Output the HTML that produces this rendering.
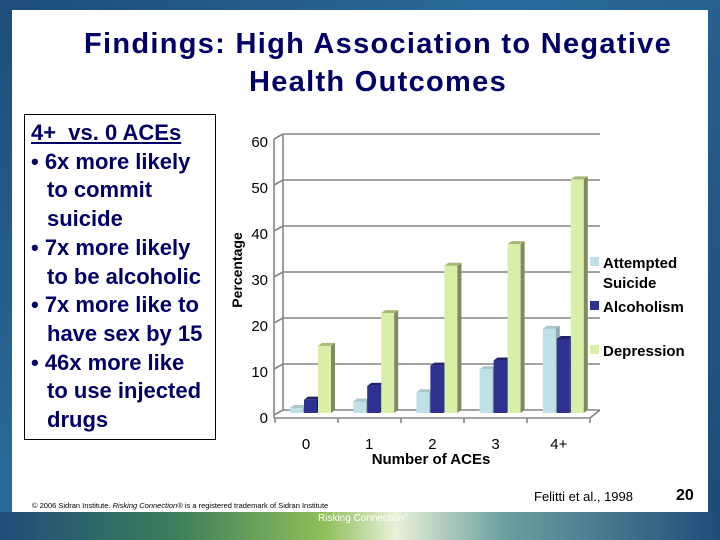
<!DOCTYPE html>
<html><head><meta charset="utf-8"><style>
body{margin:0;width:720px;height:540px;overflow:hidden;font-family:"Liberation Sans",sans-serif;}
#frame{position:absolute;left:0;top:0;width:720px;height:540px;background:linear-gradient(135deg,#1d4d7a,#2a6a9a 40%,#1b4a78);}
#white{position:absolute;left:12px;top:10px;width:696px;height:502px;background:#fff;}
#band{position:absolute;left:0;top:512px;width:720px;height:28px;background:linear-gradient(90deg,#1d4d7a 0%,#3f7f5a 25%,#8fbf5a 45%,#e8f0d8 55%,#6aa0a0 70%,#1d4d7a 100%);}
.title{position:absolute;left:18px;width:720px;text-align:center;color:#000066;font-size:29px;font-weight:bold;letter-spacing:1.3px;}
#box{position:absolute;left:24px;top:114px;width:192px;height:326px;border:1px solid #000;color:#000066;font-size:22px;font-weight:bold;line-height:28.7px;padding:4px 0 0 6px;box-sizing:border-box;}
#box div{white-space:nowrap}
.ind{padding-left:16px}
</style></head><body>
<div id="frame"></div>
<div id="white"></div>
<div id="band"></div>
<div class="title" style="top:28px">Findings: High Association to Negative</div>
<div class="title" style="top:66px">Health Outcomes</div>
<div id="box">
<div style="text-decoration:underline">4+&nbsp; vs. 0 ACEs</div>
<div>• 6x more likely</div><div class="ind">to commit</div><div class="ind">suicide</div>
<div>• 7x more likely</div><div class="ind">to be alcoholic</div>
<div>• 7x more like to</div><div class="ind">have sex by 15</div>
<div>• 46x more like</div><div class="ind">to use injected</div><div class="ind">drugs</div>
</div>
<svg id="chart" width="720" height="540" style="position:absolute;left:0;top:0"></svg>
<div style="position:absolute;left:32px;top:501px;font-size:7.5px;color:#000">© 2006 Sidran Institute. <i>Risking Connection®</i> is a registered trademark of Sidran Institute</div>
<div style="position:absolute;left:534px;top:489px;font-size:13px;color:#000">Felitti et al., 1998</div>
<div style="position:absolute;left:676px;top:487px;font-size:16px;font-weight:bold;color:#000">20</div>
<div style="position:absolute;left:318px;top:513px;font-size:10px;color:#fff">Risking Connection°</div>
<script>
const categories=["0","1","2","3","4+"];
const attempted=[1.1,2.5,4.5,9.5,18.3];
const alcoholism=[2.9,5.9,10.3,11.4,16.1];
const depression=[14.6,21.7,32.0,36.7,50.8];
const yTicks=[0,10,20,30,40,50,60];
const seriesNames=["Attempted Suicide","Alcoholism","Depression"];
const NS="http://www.w3.org/2000/svg";
const svg=document.getElementById('chart');
function mk(t,a,p){const e=document.createElementNS(NS,t);for(const k in a)e.setAttribute(k,a[k]);(p||svg).appendChild(e);return e;}
const y0=413,ppu=4.6;
function y(v){return y0-v*ppu;}
function xg(i){return 290+i*63.2;}
yTicks.forEach(t=>{
 const gy=y(t)-3;
 const l=mk('line',{x1:283,y1:gy,x2:600,y2:gy,stroke:'#858585','stroke-width':1.6});
 
 mk('line',{x1:274,y1:gy+5,x2:283,y2:gy,stroke:'#858585','stroke-width':1.6});
 const tx=mk('text',{x:268,y:y(t)+10,'text-anchor':'end','font-size':15,fill:'#000'});
 tx.textContent=t;
});
mk('line',{x1:283,y1:y(60)-3,x2:283,y2:y0-3,stroke:'#858585','stroke-width':1.6});
mk('line',{x1:274,y1:y(60)+2,x2:274,y2:y0+5,stroke:'#858585','stroke-width':1.6});
mk('line',{x1:274,y1:y0+5,x2:590,y2:y0+5,stroke:'#858585','stroke-width':1.6});
mk('line',{x1:590,y1:y0+5,x2:600,y2:y0-3,stroke:'#858585','stroke-width':1.6});
for(let i=0;i<=5;i++){mk('line',{x1:275+i*63,y1:y0+5,x2:275+i*63,y2:y0+10,stroke:'#858585','stroke-width':1.6});}
const series=[[attempted,'#bfe0e6','#8aaab0','#a8c8cc'],[alcoholism,'#2e3192','#1a1c5a','#20226e'],[depression,'#d8efa8','#7e8a60','#a8b878']];
series.forEach((s,si)=>{
 s[0].forEach((v,i)=>{
  const x=xg(i)+si*14, w=13, top=y(v), d=4;
  const g=mk('g',{});
  
  
  mk('rect',{x:x,y:top,width:w,height:y0-top,fill:s[1]},g);
  mk('polygon',{points:`${x+w},${top} ${x+w+d},${top-3} ${x+w+d},${y0-3} ${x+w},${y0}`,fill:s[2]},g);
  mk('polygon',{points:`${x},${top} ${x+d},${top-3} ${x+w+d},${top-3} ${x+w},${top}`,fill:s[3]},g);
 });
});
categories.forEach((c,i)=>{
 const t=mk('text',{x:306+i*63.2,y:449,'text-anchor':'middle','font-size':15,fill:'#000'});
 t.textContent=c;
});
const xt=mk('text',{x:431,y:464,'text-anchor':'middle','font-size':15,'font-weight':'bold',fill:'#000'});
xt.textContent='Number of ACEs';
const yt=mk('text',{x:0,y:0,'text-anchor':'middle','font-size':14,'font-weight':'bold',fill:'#000',transform:'translate(242,270) rotate(-90)'});
yt.textContent='Percentage';
const leg=[[257,['Attempted','Suicide']],[301,['Alcoholism']],[345,['Depression']]];
leg.forEach((L,k)=>{
 const g=mk('g',{});
 
 
 mk('rect',{x:590,y:L[0],width:9,height:9,fill:series[k][1]},g);
 L[1].forEach((w,j)=>{const t=mk('text',{x:603,y:L[0]+11+j*20,'font-size':15,'font-weight':'bold',fill:'#000'},g);t.textContent=w;});
});
</script>
</body></html>
